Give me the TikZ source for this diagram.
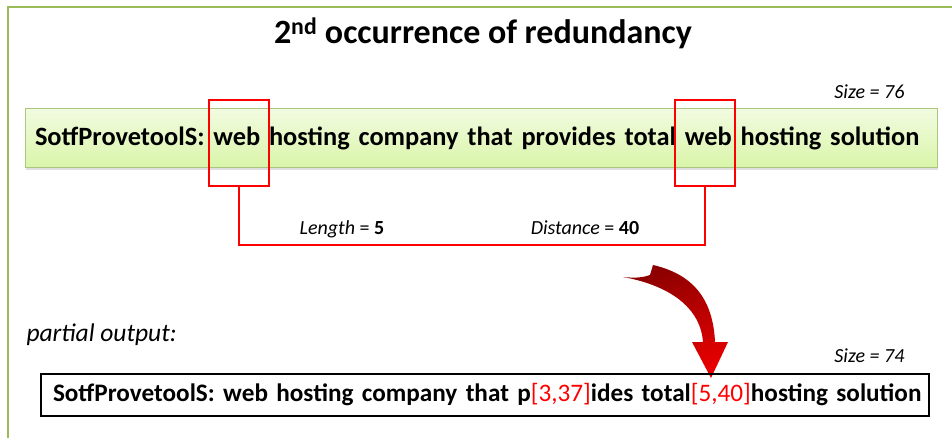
\documentclass[tikz,border=0pt]{standalone}
\usepackage{xcolor}
\usepackage{fontspec}
\setmainfont{Carlito}
\usetikzlibrary{shadows}

\definecolor{framegreen}{HTML}{9BBB59}
\definecolor{boxtop}{HTML}{F2FBE0}
\definecolor{boxbot}{HTML}{D9F5A9}
\definecolor{boxline}{HTML}{A9C77F}
\definecolor{hitred}{HTML}{FF0000}
\definecolor{arrowdark}{HTML}{8C0000}
\definecolor{arrowlight}{HTML}{E80000}

\begin{document}
\begin{tikzpicture}[
		x=1pt, y=-1pt,
		srcbox/.style={rectangle, draw=boxline, top color=boxtop, bottom color=boxbot, line width=1pt, minimum width=912pt, minimum height=59pt, text width=892pt, inner xsep=10pt, align=left, font=\fontsize{26.4}{29}\selectfont\bfseries, drop shadow={opacity=0.25, shadow xshift=1pt, shadow yshift=-2.5pt}},
		outbox/.style={rectangle, draw=black, line width=2pt, minimum width=888pt, minimum height=42pt, text width=864pt, inner xsep=12pt, align=left, font=\fontsize{25.2}{28}\selectfont\bfseries},
		hitbox/.style={rectangle, draw=hitred, line width=1.3pt, minimum width=60pt, minimum height=86pt},
		hitline/.style={draw=hitred, line width=1.3pt},
		small/.style={font=\fontsize{20}{23}\selectfont}
	]
		\useasboundingbox (0,0) rectangle (952,438);
		
		% Frame
		\draw[framegreen, line width=2pt] (8,445) -- (8,7) -- (960,7);
		
		% Title
		\node[font=\fontsize{34}{37}\selectfont\bfseries] (title) at (483,33) {2\textsuperscript{nd} occurrence of redundancy};
		
		% Source string
		\node[small, anchor=east] (sizea) at (908,92) {\textit{Size = 76}};
		\node[srcbox] (src) at (481,138.5) {\mbox{SotfProvetoolS: web hosting company that provides total web hosting solution}};
		
		% Repeated words
		\node[hitbox] (web1) at (239,143) {};
		\node[hitbox] (web2) at (705,143) {};
		
		% Link between the two words
		\coordinate (bend) at (239,245);
		\draw[hitline] (web1.south) -- (bend) -| (web2.south);
		\node[small, anchor=base] (len) at (342,235) {\textit{Length} = \textbf{5}};
		\node[small, anchor=base] (dist) at (585,235) {\textit{Distance} = \textbf{40}};
		
		% Curved arrow
		\shade[top color=arrowdark, bottom color=arrowlight, shading angle=20]
			(623,277) .. controls (662,284) and (700,303) .. (703,342)
			-- (692,342) -- (711,378) -- (728,342) -- (715,342)
			.. controls (713,298) and (692,274) .. (653,265)
			-- (650,275) .. controls (642,278) and (633,278) .. (623,277) -- cycle;
		
		% Partial output
		\node[font=\fontsize{25.5}{28}\selectfont\itshape, anchor=west] (part) at (23,335) {partial output:};
		\node[small, anchor=east] (sizeb) at (908,356) {\textit{Size = 74}};
		\node[outbox] (out) at (485,395) {\mbox{SotfProvetoolS: web hosting company that p\textcolor{hitred}{\mdseries[3,37]}ides total\textcolor{hitred}{\mdseries[5,40]}hosting solution}};
	\end{tikzpicture}
\end{document}
